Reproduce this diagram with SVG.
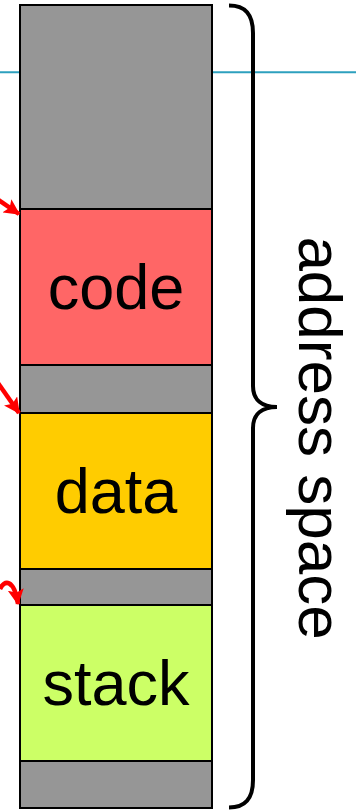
<svg xmlns="http://www.w3.org/2000/svg" width="356" height="811" viewBox="0 0 356 811">
  <style>
    .seg { stroke: #000; stroke-width: 2; }
    .free { fill: #969696; }
    .label { font-family: "Liberation Sans", Arial, sans-serif; font-size: 63px; fill: #000; text-anchor: middle; }
    .side { font-size: 62px; }
    .ptr { fill: none; stroke: #ff0000; stroke-width: 4.5; stroke-linecap: butt; }
  </style>
  <defs>
    <marker id="redHead" viewBox="0 0 12 12" markerUnits="userSpaceOnUse" markerWidth="16" markerHeight="16" refX="11" refY="6" orient="auto">
      <path d="M0,0 L12,6 L0,12 L2.5,6 z" fill="#ff0000"/>
    </marker>
  </defs>

  <rect width="356" height="811" fill="#fff"/>

  <!-- horizontal reference line behind the memory column -->
  <line x1="0" y1="72.3" x2="356" y2="72.3" stroke="#2da0be" stroke-width="2"/>

  <!-- memory column -->
  <g id="free-top"><rect class="seg free" x="20" y="5" width="192" height="204"/></g>
  <g id="code">
    <rect class="seg" x="20" y="209" width="192" height="156" fill="#ff6666"/>
    <text class="label" x="116" y="309">code</text>
  </g>
  <g id="free-1"><rect class="seg free" x="20" y="365" width="192" height="48"/></g>
  <g id="data">
    <rect class="seg" x="20" y="413" width="192" height="156" fill="#ffcc00"/>
    <text class="label" x="116" y="513">data</text>
  </g>
  <g id="free-2"><rect class="seg free" x="20" y="569" width="192" height="36"/></g>
  <g id="stack">
    <rect class="seg" x="20" y="605" width="192" height="156" fill="#ccff66"/>
    <text class="label" x="116" y="705">stack</text>
  </g>
  <g id="free-bottom"><rect class="seg free" x="20" y="761" width="192" height="47"/></g>

  <!-- pointers into the segment starts -->
  <g id="connectors">
    <path class="ptr" d="M-6,197 L19,214" marker-end="url(#redHead)"/>
    <path class="ptr" d="M-2,383 L19,413" marker-end="url(#redHead)"/>
    <path class="ptr" d="M0,589 C4,580 14,578 18,604" marker-end="url(#redHead)"/>
  </g>

  <!-- brace spanning the whole column -->
  <g id="address-space">
    <path d="M229,5.5 C245,5.5 253,14 253,33 L253,386 C253,400 262,407 277,407 C262,407 253,414 253,428 L253,780 C253,799 245,807.5 229,807.5" fill="none" stroke="#000" stroke-width="4"/>
    <text class="label side" transform="translate(299,438) rotate(90)" x="0" y="0">address space</text>
  </g>
</svg>
